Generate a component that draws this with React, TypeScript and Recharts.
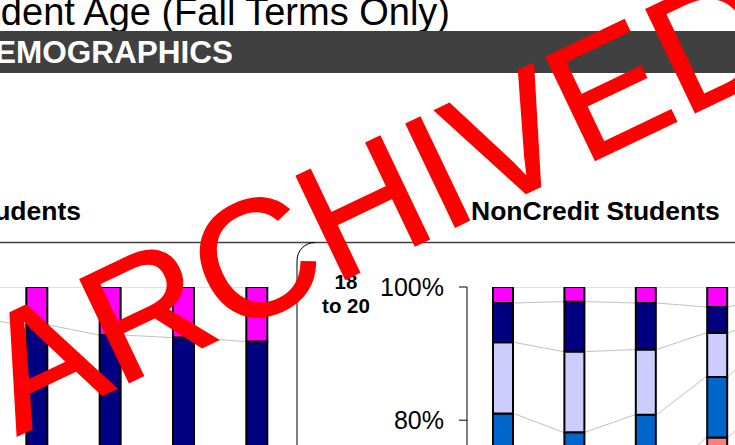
import React from 'react';
import { ComposedChart, Bar, Line, XAxis, YAxis } from 'recharts';

const FONT = '"Liberation Sans", Arial, sans-serif';

// Age groups, bottom of the stack first
const AGE_GROUPS = ['Unknown', '60 and Over', '50 to 59', '40 to 49', '35 to 39', '30 to 34', '25 to 29', '21 to 24', '18 to 20', 'Under 18'];
const AGE_COLORS = ['#9999FF', '#993366', '#FFFFCC', '#CCFFFF', '#660066', '#FF8080', '#0066CC', '#CCCCFF', '#000080', '#FF00FF'];

// Credit students (percent of headcount)
const CREDIT_TERMS = ['Fall 2004', 'Fall 2005', 'Fall 2006', 'Fall 2007', 'Fall 2008'];
const CREDIT_UNKNOWN = [1.3, 1, 1, 1, 1];
const CREDIT_60_PLUS = [2, 2, 1, 1, 1];
const CREDIT_50_59 = [5, 5, 5, 5, 5];
const CREDIT_40_49 = [10, 9, 9, 9, 8];
const CREDIT_35_39 = [6, 6, 6, 5, 5];
const CREDIT_30_34 = [7, 7, 7, 7, 7];
const CREDIT_25_29 = [12, 12, 12, 12, 12];
const CREDIT_21_24 = [22, 22, 21, 21, 21];
const CREDIT_18_20 = [30, 30.3, 30.8, 31.4, 31.8];
const CREDIT_UNDER_18 = [4.7, 5.7, 7.2, 7.6, 8.2];

// NonCredit students (percent of headcount)
const NONCREDIT_TERMS = ['Fall 2004', 'Fall 2005', 'Fall 2006', 'Fall 2007', 'Fall 2008'];
const NC_UNKNOWN = [5.0, 3.2, 3.0, 5.4, 7.5];
const NC_60_PLUS = [20, 20, 20, 25, 20];
const NC_50_59 = [15, 15, 15, 15, 18];
const NC_40_49 = [16, 16, 16, 16, 22];
const NC_35_39 = [8, 8, 8, 8, 8];
const NC_30_34 = [8, 8, 8, 8, 9];
const NC_25_29 = [9.0, 8.0, 10.8, 9.1, 9.5];
const NC_21_24 = [10.7, 12.1, 9.8, 6.6, 2.1];
const NC_18_20 = [5.9, 7.5, 7.0, 3.9, 2.7];
const NC_UNDER_18 = [2.4, 2.2, 2.4, 3.0, 1.2];

// only the ticks that fall inside the visible area
const Y_TICKS = [80, 100];

const CREDIT_SERIES = [CREDIT_UNKNOWN, CREDIT_60_PLUS, CREDIT_50_59, CREDIT_40_49, CREDIT_35_39, CREDIT_30_34, CREDIT_25_29, CREDIT_21_24, CREDIT_18_20, CREDIT_UNDER_18];
const NONCREDIT_SERIES = [NC_UNKNOWN, NC_60_PLUS, NC_50_59, NC_40_49, NC_35_39, NC_30_34, NC_25_29, NC_21_24, NC_18_20, NC_UNDER_18];

const PLOT_TOP = 287;
const PLOT_H = 666;

function connectorPoints(tops: number[], half: number) {
  const pts: { x: number; y: number | null }[] = [];
  for (let i = 0; i < tops.length - 1; i++) {
    pts.push({ x: i + 1 + half, y: tops[i] });
    pts.push({ x: i + 2 - half, y: tops[i + 1] });
    pts.push({ x: i + 2, y: null });
  }
  return pts;
}

function StackedPanel(props: {
  terms: string[];
  series: number[][];
  band: number;
  barSize: number;
  left: number;
  yAxisWidth: number;
  showAxis: boolean;
}) {
  const { terms, series, band, barSize, left, yAxisWidth, showAxis } = props;
  const n = terms.length;
  const width = yAxisWidth + band * n;
  const rows = terms.map((t, i) => {
    const r: any = { term: t };
    series.forEach((s, k) => {
      r['s' + k] = s[i];
    });
    return r;
  });
  let acc = terms.map(() => 0);
  const tops = series.map((s) => {
    acc = acc.map((a, i) => a + s[i]);
    return acc;
  });
  const half = (barSize / 2 + 1) / band;
  return (
    <div style={{ position: 'absolute', left, top: 0 }}>
      <ComposedChart
        width={width}
        height={PLOT_TOP + PLOT_H + 20}
        data={rows}
        margin={{ top: PLOT_TOP, right: 0, bottom: 20, left: 0 }}
      >
        <XAxis xAxisId="c" dataKey="term" type="category" hide />
        <XAxis xAxisId="n" dataKey="x" type="number" domain={[0.5, n + 0.5]} allowDataOverflow hide />
        <YAxis
          domain={[0, 100]}
          allowDataOverflow
          ticks={Y_TICKS}
          hide={!showAxis}
          width={yAxisWidth}
          tickFormatter={(v: number) => v + '%'}
          tick={{ fontSize: 25, fill: '#000', fontFamily: FONT }}
          axisLine={{ stroke: '#000' }}
          tickLine={{ stroke: '#000' }}
          tickSize={8}
          tickMargin={15}
        />
        {tops.map((t, k) => (
          <Line
            key={'l' + k}
            xAxisId="n"
            data={connectorPoints(t, half)}
            dataKey="y"
            stroke="#C0C0C0"
            strokeWidth={1}
            dot={false}
            activeDot={false}
            connectNulls={false}
            isAnimationActive={false}
          />
        ))}
        {series.map((s, k) => (
          <Bar
            key={'b' + k}
            xAxisId="c"
            dataKey={'s' + k}
            name={AGE_GROUPS[k]}
            stackId="a"
            fill={AGE_COLORS[k]}
            stroke="#000"
            strokeWidth={2}
            barSize={barSize}
            isAnimationActive={false}
          />
        ))}
      </ComposedChart>
    </div>
  );
}

export default function App() {
  return (
    <div
      style={{
        position: 'absolute',
        left: 0,
        top: 0,
        width: 735,
        height: 445,
        overflow: 'hidden',
        background: '#fff',
        fontFamily: FONT,
      }}
    >
      <StackedPanel terms={CREDIT_TERMS} series={CREDIT_SERIES} band={73.33} barSize={21} left={-73.33} yAxisWidth={0} showAxis={false} />
      <StackedPanel terms={NONCREDIT_TERMS} series={NONCREDIT_SERIES} band={71.4} barSize={20} left={370} yAxisWidth={97} showAxis={true} />
      <svg width={735} height={445} style={{ position: 'absolute', left: 0, top: 0 }} fontFamily={FONT}>
        <text x={450} y={25} textAnchor="end" fontSize={38} fill="#000">Student Age (Fall Terms Only)</text>
        <rect x={0} y={31} width={735} height={42} fill="#404040" />
        <text x={233} y={63} textAnchor="end" fontSize={31.5} fontWeight="bold" fill="#fff">DEMOGRAPHICS</text>
        <text x={81} y={220} textAnchor="end" fontSize={26.5} fontWeight="bold" fill="#000">Credit Students</text>
        <text x={471} y={220} fontSize={26.5} fontWeight="bold" fill="#000">NonCredit Students</text>
        <line x1={0} x2={735} y1={242.5} y2={242.5} stroke="#404040" strokeWidth={1.5} />
        <path d="M 315 242.5 A 18 18 0 0 0 297 260.5 V 445" fill="none" stroke="#000" strokeWidth={1} />
        <text textAnchor="middle" fontSize={20.5} fontWeight="bold" fill="#000">
          <tspan x={346} y={289}>18</tspan>
          <tspan x={346} y={313}>to 20</tspan>
        </text>
        <text
          transform="translate(17,436) rotate(-25.5)"
          fontSize={166}
          fill="#FF0000"
          stroke="#FF0000"
          strokeWidth={1.5}
        >
          ARCHIVED
        </text>
      </svg>
    </div>
  );
}
